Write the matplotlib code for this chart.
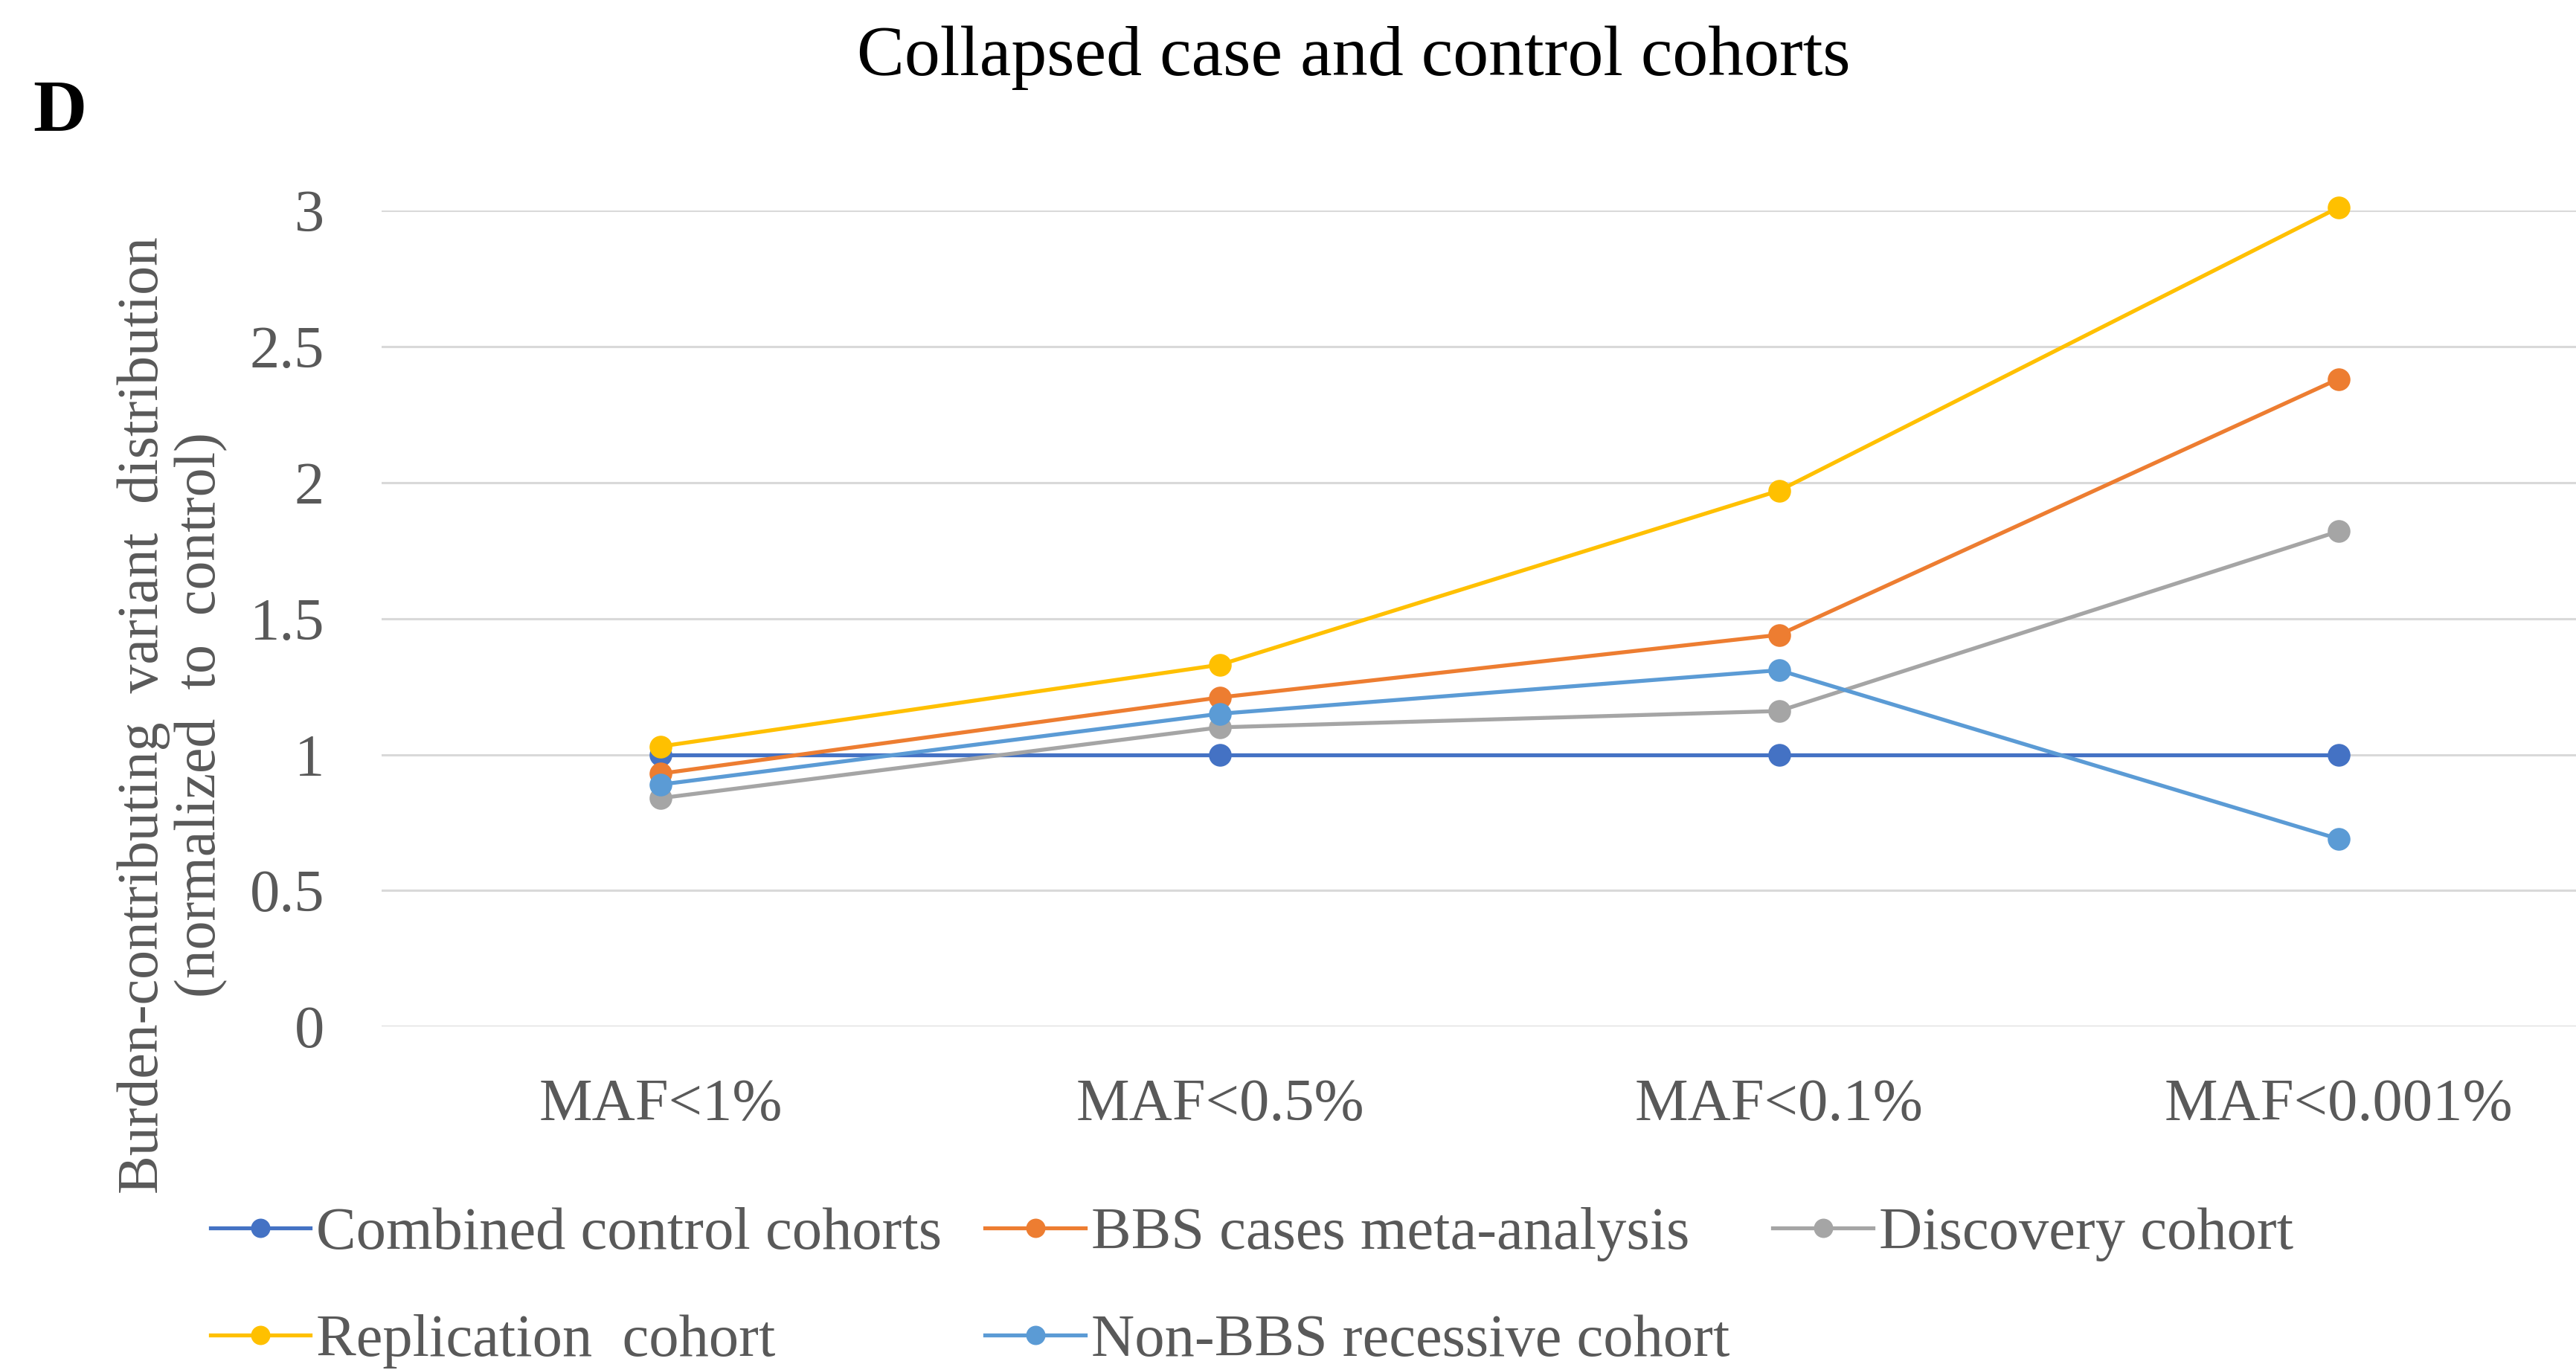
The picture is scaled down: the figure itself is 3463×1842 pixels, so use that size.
import matplotlib
matplotlib.use("Agg")
import matplotlib.pyplot as plt

plt.rcParams['font.family'] = ['Liberation Serif', 'DejaVu Serif']

categories = ["MAF<1%", "MAF<0.5%", "MAF<0.1%", "MAF<0.001%"]
combined_control = [1.0, 1.0, 1.0, 1.0]
bbs_meta = [0.93, 1.21, 1.44, 2.38]
discovery = [0.84, 1.10, 1.16, 1.82]
replication = [1.03, 1.33, 1.97, 3.01]
non_bbs = [0.89, 1.15, 1.31, 0.69]
yticks = [0, 0.5, 1, 1.5, 2, 2.5, 3]
ytick_labels = ["0", "0.5", "1", "1.5", "2", "2.5", "3"]

series = [
    ("Combined control cohorts", combined_control, "#4472C4"),
    ("BBS cases meta-analysis", bbs_meta, "#ED7D31"),
    ("Discovery cohort", discovery, "#A5A5A5"),
    ("Replication  cohort", replication, "#FFC000"),
    ("Non-BBS recessive cohort", non_bbs, "#5B9BD5"),
]

fig = plt.figure(figsize=(34.63, 18.42), dpi=100)
ax = fig.add_axes([0.148, 0.2506, 0.852, 0.5959])

x = list(range(len(categories)))
handles = {}
for name, vals, col in series:
    h, = ax.plot(x, vals, color=col, lw=3.8, marker='o', markersize=22,
                 markeredgewidth=0, clip_on=False, zorder=3, label=name)
    handles[name] = h

ax.set_xlim(-0.5, 3.425)
ax.set_ylim(0, 3)
ax.set_yticks(yticks)
ax.set_yticklabels(ytick_labels)
ax.set_xticks(x)
ax.set_xticklabels(categories)
ax.grid(axis='y', color='#D9D9D9', lw=2.2)
ax.set_axisbelow(True)
for s in ax.spines.values():
    s.set_visible(False)
ax.tick_params(axis='both', length=0, labelsize=58, colors='#595959')
ax.tick_params(axis='y', pad=55)
ax.tick_params(axis='x', pad=50)

fig.text(0.5255, 0.958, "Collapsed case and control cohorts", ha='center', va='center',
         fontsize=69, color='black')
fig.text(0.0128, 0.918, "D", ha='left', va='center', fontsize=72, fontweight='bold', color='black')
fig.text(0.067, 0.478, "Burden-contributing  variant  distribution\n(normalized  to  control)",
         rotation=90, ha='center', va='center', fontsize=56, color='#595959', linespacing=1.1)

order = ["Combined control cohorts", "Replication  cohort", "BBS cases meta-analysis",
         "Non-BBS recessive cohort", "Discovery cohort"]
leg = fig.legend([handles[n] for n in order], order, ncol=3, loc='upper left',
                 bbox_to_anchor=(0.0816, 0.119), frameon=False, fontsize=58,
                 handlelength=1.67, handletextpad=0.1, columnspacing=0.72,
                 labelspacing=0.88, borderpad=0, borderaxespad=0, markerscale=0.85)
for t in leg.get_texts():
    t.set_color('#595959')

fig.savefig("out.png", dpi=100)
